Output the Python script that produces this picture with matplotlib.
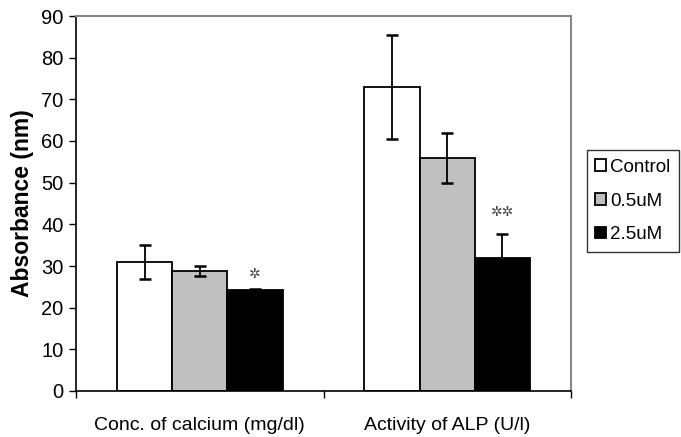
import matplotlib
matplotlib.use("Agg")
import matplotlib.pyplot as plt
import numpy as np

categories = ["Conc. of calcium (mg/dl)", "Activity of ALP (U/l)"]
groups = ["Control", "0.5uM", "2.5uM"]
means = {
    "Control": [31.0, 73.0],
    "0.5uM": [28.8, 56.0],
    "2.5uM": [24.2, 32.0],
}
errors = {
    "Control": [4.0, 12.5],
    "0.5uM": [1.1, 6.0],
    "2.5uM": [0.4, 5.8],
}
marks = [("\u2732", 0, 28.0), ("\u2732\u2732", 1, 43.0)]  # significance stars over 2.5uM

colors = ["#ffffff", "#c0c0c0", "#000000"]

plt.rcParams["font.family"] = ["Liberation Sans", "DejaVu Sans"]

fig = plt.figure(figsize=(6.81, 4.37), dpi=100)
ax = fig.add_axes([76 / 681, 46 / 437, 495 / 681, 375 / 437])

x = np.arange(len(categories))
width = 0.223
for i, g in enumerate(groups):
    pos = x + (i - 1) * width
    ax.bar(pos, means[g], width, color=colors[i], edgecolor="black", linewidth=1.3, label=g, zorder=2)
    ax.errorbar(pos, means[g], yerr=errors[g], fmt="none", ecolor="black",
                elinewidth=1.3, capsize=4, capthick=1.8, zorder=3)

for txt, ci, yv in marks:
    ax.text(x[ci] + width, yv, txt, ha="center", va="center", fontsize=10,
            family="DejaVu Sans", color="#444444")

ax.set_xlim(-0.5, 1.5)
ax.set_ylim(0, 90)
ax.set_yticks(np.arange(0, 91, 10))
ax.set_xticks([-0.5, 0.5, 1.5])
ax.set_xticklabels([])
ax.set_xticks(x, minor=True)
ax.set_xticklabels(categories, minor=True, fontsize=14)
ax.tick_params(axis="x", which="minor", length=0, pad=19)
ax.tick_params(axis="x", which="major", length=5, direction="out", width=1)
ax.tick_params(axis="y", length=5, direction="out", labelsize=14.5, width=1, pad=4)

for s in ["top", "right"]:
    ax.spines[s].set_color("#888888")
    ax.spines[s].set_linewidth(1.5)
for s in ["left", "bottom"]:
    ax.spines[s].set_linewidth(1.2)

ax.set_ylabel("Absorbance (nm)", fontsize=16.5, fontweight="bold", labelpad=5)

fig.legend(loc="center left", bbox_to_anchor=(587 / 681, 1 - 201 / 437),
           frameon=True, fancybox=False, edgecolor="black", fontsize=13.5,
           handlelength=0.55, handleheight=0.55, handletextpad=0.25,
           labelspacing=0.9, borderpad=0.45, borderaxespad=0)

fig.savefig("out.png", dpi=100)
